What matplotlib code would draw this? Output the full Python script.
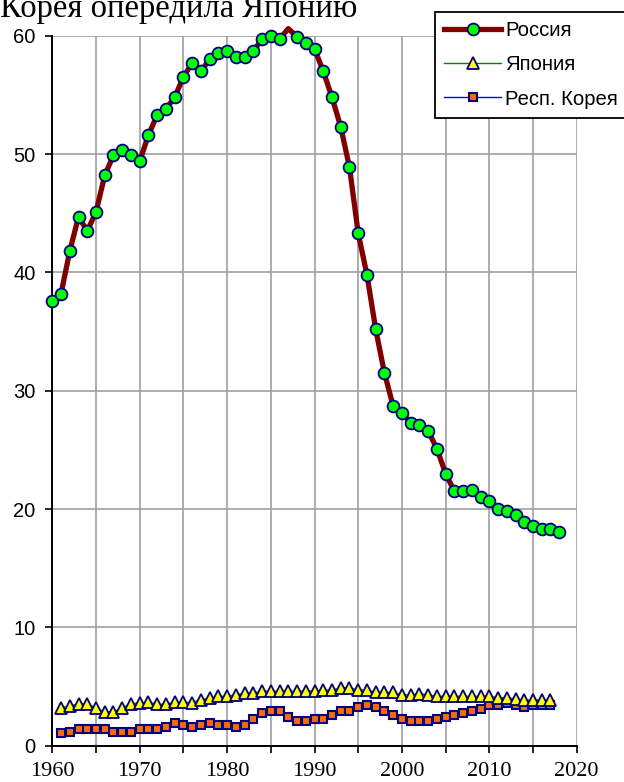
import numpy as np
import matplotlib
matplotlib.use('Agg')
import matplotlib.pyplot as plt
from matplotlib.ticker import MultipleLocator

title = "Корея опередила Японию"
labels = ["Россия", "Япония", "Респ. Корея"]

years_russia = list(range(1960, 2019))
russia = [37.6, 38.2, 41.8, 44.7, 43.5, 45.1, 48.2, 49.9, 50.3, 49.9,
          49.4, 51.6, 53.3, 53.8, 54.8, 56.5, 57.7, 57.0, 58.0, 58.5,
          58.7, 58.2, 58.2, 58.7, 59.7, 60.0, 59.7, 60.6, 59.9, 59.4,
          58.9, 57.0, 54.8, 52.3, 48.9, 43.3, 39.8, 35.2, 31.5, 28.7,
          28.1, 27.3, 27.1, 26.6, 25.1, 23.0, 21.5, 21.5, 21.6, 21.0,
          20.7, 20.0, 19.8, 19.5, 18.9, 18.6, 18.3, 18.3, 18.1]

years_asia = list(range(1961, 2018))
japan = [3.2, 3.37, 3.53, 3.53, 3.19, 2.86, 2.86, 3.2, 3.55,
         3.6, 3.68, 3.5, 3.5, 3.68, 3.68, 3.65, 3.9, 4.03, 4.17,
         4.17, 4.3, 4.45, 4.45, 4.6, 4.62, 4.62, 4.62, 4.62, 4.62,
         4.62, 4.7, 4.7, 4.9, 4.9, 4.7, 4.72, 4.5, 4.5, 4.5,
         4.3, 4.3, 4.38, 4.3, 4.17, 4.17, 4.17, 4.17, 4.17, 4.17,
         4.17, 4.06, 4.06, 3.94, 3.83, 3.87, 3.87, 3.85]
korea = [1.1, 1.2, 1.4, 1.4, 1.4, 1.4, 1.2, 1.2, 1.2,
         1.4, 1.4, 1.4, 1.6, 1.95, 1.78, 1.6, 1.77, 1.94, 1.75,
         1.75, 1.57, 1.75, 2.25, 2.77, 2.94, 2.94, 2.43, 2.07, 2.07,
         2.23, 2.23, 2.59, 2.93, 2.93, 3.3, 3.44, 3.24, 2.93, 2.56,
         2.23, 2.08, 2.08, 2.08, 2.23, 2.42, 2.59, 2.76, 2.93, 3.13,
         3.41, 3.41, 3.58, 3.41, 3.24, 3.41, 3.41, 3.41]

x_min, x_max = 1960, 2020
y_min, y_max = 0, 60

W, H = 624, 782
fig = plt.figure(figsize=(W / 100, H / 100), dpi=100)
ax = fig.add_axes([52.3 / W, 1 - 745.7 / H, (576.7 - 52.3) / W, (745.7 - 35.7) / H])

sans = 'Liberation Sans'
serif = 'Liberation Serif'

ax.set_xlim(x_min, x_max)
ax.set_ylim(y_min, y_max)

grid_col = '#a0a0a0'
ax.xaxis.set_major_locator(MultipleLocator(10))
ax.xaxis.set_minor_locator(MultipleLocator(5))
ax.yaxis.set_major_locator(MultipleLocator(10))
ax.grid(True, which='both', axis='x', color=grid_col, linewidth=1.2, zorder=0)
ax.grid(True, which='major', axis='y', color=grid_col, linewidth=1.2, zorder=0)
ax.set_axisbelow(True)

for s in ['top', 'right']:
    ax.spines[s].set_visible(False)
for s in ['left', 'bottom']:
    ax.spines[s].set_color('black')
    ax.spines[s].set_linewidth(1.4)

ax.tick_params(axis='x', which='both', direction='out', length=5, width=1.2, colors='black',
               pad=7, labelsize=16, labelfontfamily=serif)
ax.tick_params(axis='y', which='major', direction='out', length=5, width=1.2, colors='black',
               pad=7, labelsize=14.5, labelfontfamily=sans)

# Korea
ax.plot(years_asia, korea, color='#0000ff', linewidth=1.0, marker='s', markersize=6,
        markerfacecolor='#ff6a00', markeredgecolor='#000080', markeredgewidth=1.5,
        label=labels[2], zorder=3)
# Japan
ax.plot(years_asia, japan, color='#008000', linewidth=1.0, marker='^', markersize=9,
        markerfacecolor='#ffff00', markeredgecolor='#000080', markeredgewidth=1.3,
        label=labels[1], zorder=4)
# Russia
visible_idx = [i for i, v in enumerate(russia) if v <= y_max]
ax.plot(years_russia, russia, color='#800000', linewidth=3.8, marker='o', markersize=8.5,
        markerfacecolor='#00ff00', markeredgecolor='#000080', markeredgewidth=1.3,
        markevery=visible_idx, label=labels[0], zorder=5, clip_on=False)

handles, labs = ax.get_legend_handles_labels()
order = [2, 1, 0]
leg = fig.legend([handles[i] for i in order], [labs[i] for i in order],
                 loc='upper left', bbox_to_anchor=(435 / W, 1 - 12 / H),
                 prop={'family': sans, 'size': 14.6}, frameon=True, fancybox=False,
                 shadow=False, framealpha=1, edgecolor='black',
                 handlelength=2.8, handletextpad=0.2, borderpad=0.45,
                 labelspacing=0.75, borderaxespad=0)
leg.get_frame().set_linewidth(1.3)

fig.text(0, 1 - 17 / H, title, fontsize=23.5, family=serif, va='baseline', ha='left')

fig.savefig('out.png', dpi=100)
